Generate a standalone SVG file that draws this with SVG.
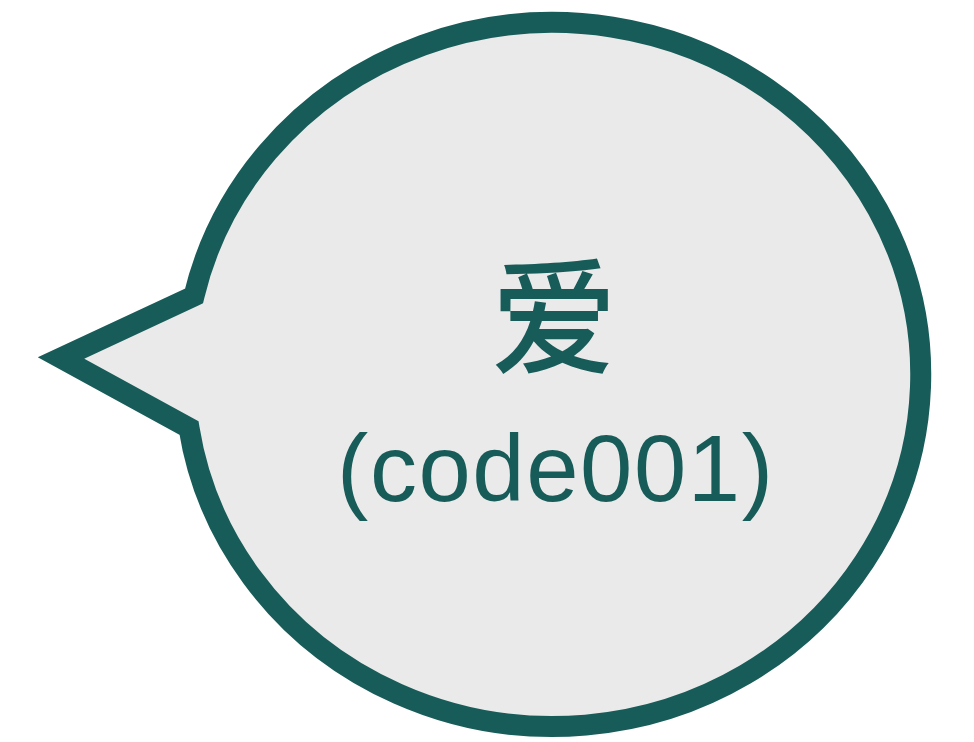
<svg xmlns="http://www.w3.org/2000/svg" width="974" height="742" viewBox="0 0 974 742">
  <style>
    .bubble { fill: #EAEAEA; stroke: #185C59; stroke-width: 21; stroke-linejoin: miter; stroke-miterlimit: 10; }
    .label { fill: #185C59; text-anchor: middle; }
    .cjk { font-family: "Noto Sans CJK SC", "Noto Sans", sans-serif; font-weight: 500; font-size: 126px; }
    .code { font-family: "Liberation Sans", Arial, sans-serif; font-size: 94px; }
  </style>
  <rect width="974" height="742" fill="#FFFFFF"/>
  <g id="node-bubble">
    <path class="bubble" d="M 194 296 L 61 358 L 189 428 A 368 352 0 1 0 194 296 Z"/>
    <text class="label cjk" x="554" y="364">爱</text>
    <text class="label code" x="555" y="501" textLength="436" lengthAdjust="spacing">(code001)</text>
  </g>
  <g id="connectors"></g>
</svg>
